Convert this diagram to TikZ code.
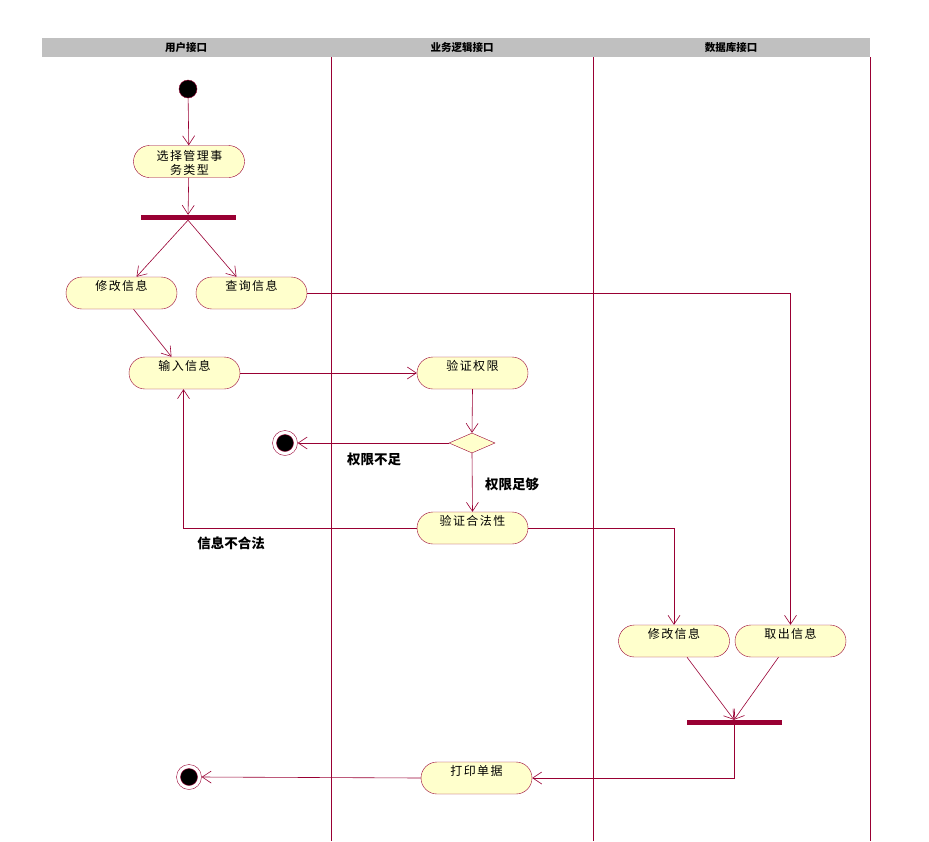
\documentclass[tikz,border=0pt]{standalone}
\usepackage{fontspec}
\setmainfont{Noto Sans CJK SC}
\newfontfamily\spaced[LetterSpace=12]{Noto Sans CJK SC}
\usetikzlibrary{arrows.meta,shapes.geometric}
\definecolor{crim}{RGB}{153,0,51}
\definecolor{actfill}{RGB}{255,255,204}
\definecolor{hdr}{RGB}{192,192,192}
\tikzset{
  actbase/.style={draw=crim, fill=actfill, rounded corners=16pt, minimum width=111pt, minimum height=32pt, inner sep=0pt, font=\spaced\fontsize{12}{14.5}\selectfont, align=center},
  act/.style={actbase, text height=10pt, text depth=15pt},
  acttext/.style={font=\spaced\fontsize{12}{14.5}\selectfont, align=center, inner sep=0pt},
  bar/.style={fill=crim, draw=none, minimum width=95pt, minimum height=5pt, inner sep=0pt},
  startnode/.style={circle, fill=black, draw=crim, minimum size=18pt, inner sep=0pt},
  endouter/.style={circle, fill=white, draw=crim, minimum size=25pt, inner sep=0pt},
  endinner/.style={circle, fill=black, draw=crim, minimum size=17pt, inner sep=0pt},
  dec/.style={diamond, draw=crim, fill=actfill, minimum width=46pt, minimum height=20pt, aspect=2.3, inner sep=0pt},
  flow/.style={draw=crim, line width=0.6pt, -{Straight Barb[length=9pt,width=12pt]}},
  lane/.style={draw=crim, line width=0.9pt},
  lbl/.style={font=\fontsize{13.5}{15}\selectfont\bfseries},
  hdrtxt/.style={font=\fontsize{10.5}{11}\selectfont\bfseries}
}
\begin{document}
\begin{tikzpicture}[x=1pt,y=-1pt]
\useasboundingbox (0,0) rectangle (929,841);
% header
\fill[hdr] (42,38) rectangle (870,57);
\node[hdrtxt] (h1) at (186,47.5) {用户接口};
\node[hdrtxt] (h2) at (462,47.5) {业务逻辑接口};
\node[hdrtxt] (h3) at (731,47.5) {数据库接口};
% lanes
\draw[lane] (331,57) -- (331,841);
\draw[lane] (593,57) -- (593,841);
\draw[lane] (870,57) -- (870,841);
% nodes
\node[startnode] (start) at (188,89) {};
\node[actbase] (sel) at (189,161.5) {};
\node[acttext] (selt) at (189.5,163) {选择管理事\\务类型};
\node[bar] (bar1) at (188,217.5) {};
\node[act] (modL) at (121.5,293) {修改信息};
\node[act] (query) at (251.5,293) {查询信息};
\node[act] (input) at (184.5,373) {输入信息};
\node[act] (auth) at (472.5,373) {验证权限};
\node[dec] (dec) at (472,443) {};
\node[endouter] (end1) at (285,443) {};
\node[endinner] (end1i) at (285,443) {};
\node[act] (legal) at (472.5,528) {验证合法性};
\node[act] (modR) at (674,641) {修改信息};
\node[act] (fetch) at (790.5,641) {取出信息};
\node[bar] (bar2) at (734,722) {};
\node[act] (print) at (476.5,778) {打印单据};
\node[endouter] (end2) at (189,777) {};
\node[endinner] (end2i) at (189,777) {};
% labels
\node[lbl] (l1) at (374,459) {权限不足};
\node[lbl] (l2) at (512,484) {权限足够};
\node[lbl] (l3) at (231,543) {信息不合法};
% flows
\draw[flow] (start) -- (sel);
\draw[flow] (sel) -- (bar1);
\draw[flow] (bar1.south) -- ([xshift=15pt]modL.north);
\draw[flow] (bar1.south) -- ([xshift=-15pt]query.north);
\draw[flow] ([xshift=12pt]modL.south) -- ([xshift=-13pt]input.north);
\draw[flow] (query.east) -| (fetch.north);
\draw[flow] (input.east) -- (auth.west);
\draw[flow] (auth.south) -- (dec.north);
\draw[flow] (dec.west) -- (end1.east);
\draw[flow] (dec.south) -- (legal.north);
\draw[flow] (legal.west) -| ([xshift=-1pt]input.south);
\draw[flow] (legal.east) -| (modR.north);
\draw[flow] ([xshift=13pt]modR.south) -- ([yshift=-0.5pt]bar2.north);
\draw[flow] ([xshift=-12pt]fetch.south) -- ([yshift=-0.5pt]bar2.north);
\draw[flow] (bar2.south) |- (print.east);
\draw[flow] (print.west) -- (end2.east);
\end{tikzpicture}
\end{document}
